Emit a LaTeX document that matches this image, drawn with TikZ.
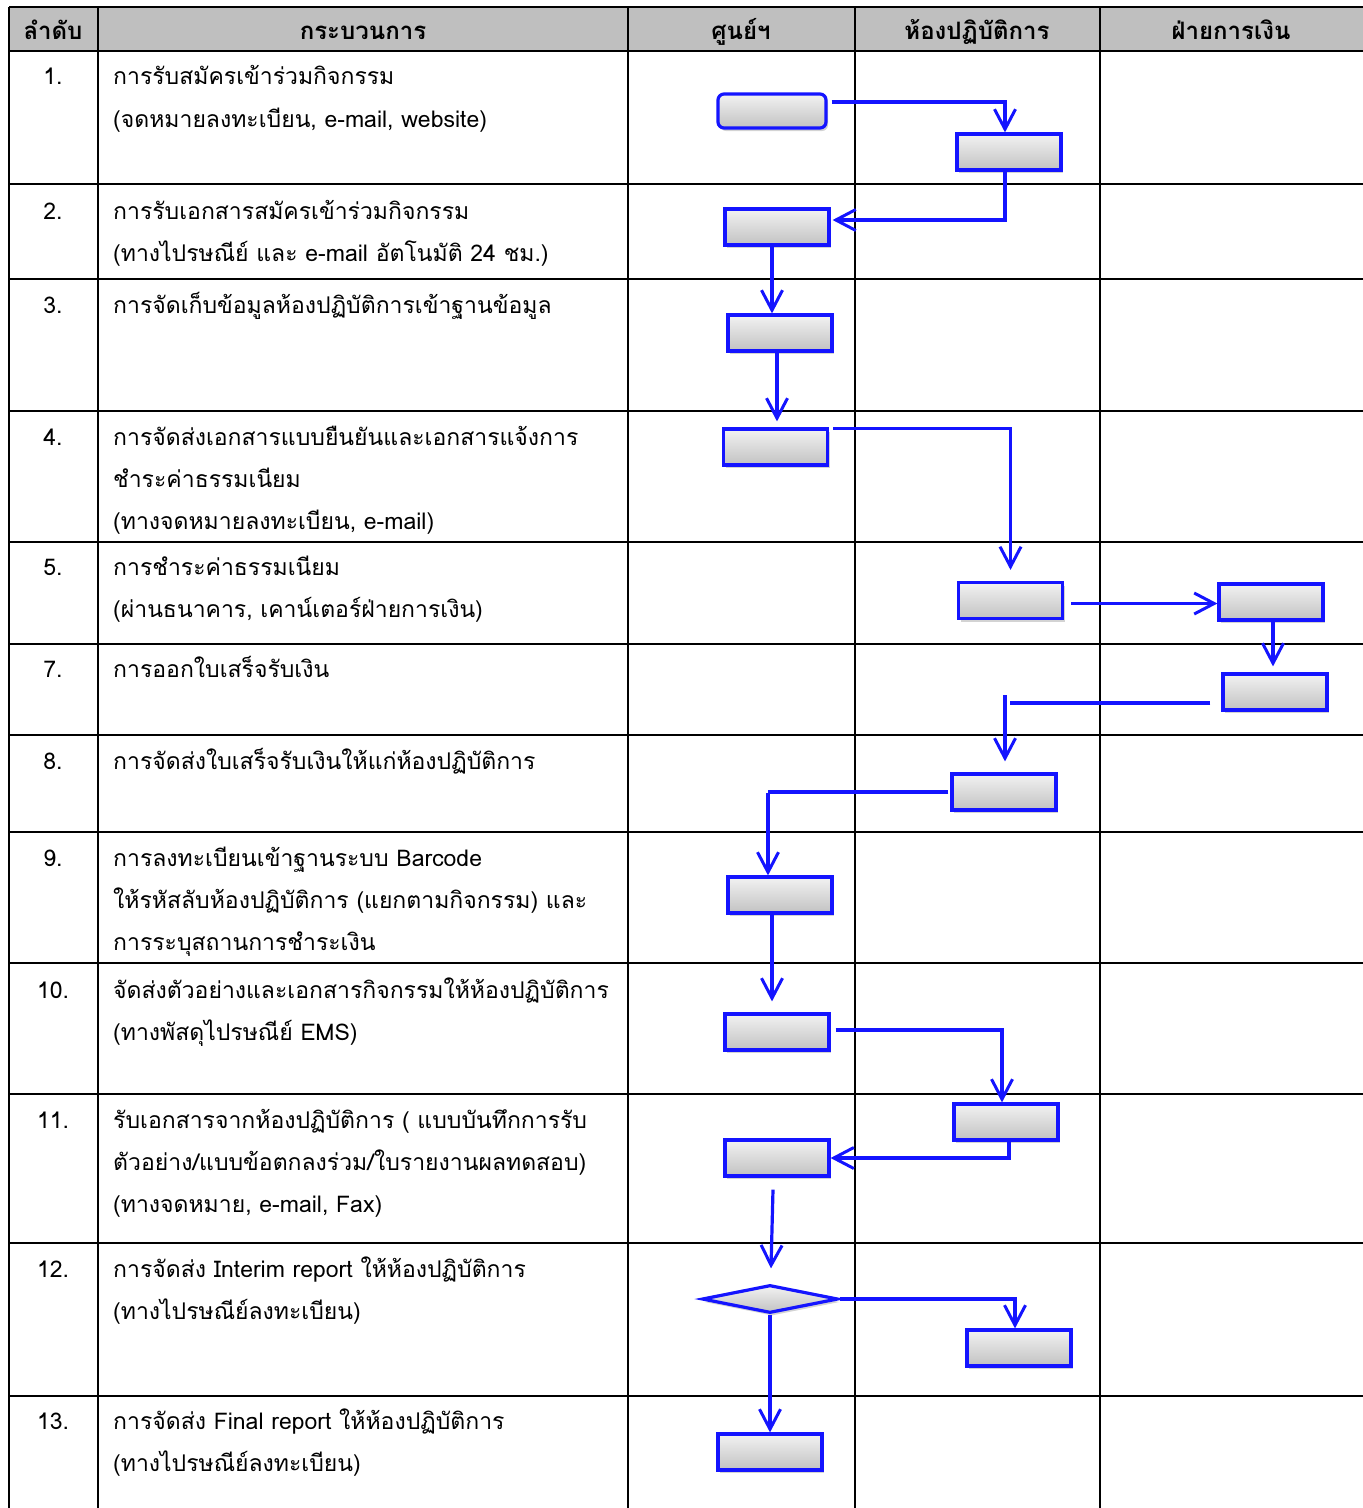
\documentclass[tikz,border=0pt]{standalone}
\usepackage{fontspec}
\newfontfamily\thai[Script=Thai]{Loma}
\usetikzlibrary{shapes.geometric,shadows,arrows.meta,calc}
\definecolor{flowblue}{RGB}{20,20,255}
\definecolor{headgray}{RGB}{191,191,191}
\tikzset{
 tablerule/.style={line width=2.8pt, black},
 txt/.style={anchor=base west, inner sep=0pt, font=\thai\fontsize{23}{28}\selectfont},
 num/.style={anchor=base, inner sep=0pt, font=\thai\fontsize{23}{28}\selectfont},
 head/.style={anchor=base, inner sep=0pt, font=\thai\bfseries\fontsize{24}{28}\selectfont},
 procbox/.style={draw=flowblue, line width=3.2pt, top color=gray!10, bottom color=gray!48,
   minimum width=104pt, minimum height=36pt, inner sep=0pt,
   drop shadow={opacity=0.35, shadow xshift=2pt, shadow yshift=-3pt}},
 decbox/.style={procbox, shape=diamond, minimum width=136pt, minimum height=28pt, aspect=4.8},
 flow/.style={draw=flowblue, line width=3.2pt},
 arr/.style={flow, -{Straight Barb[length=20pt,width=21pt,line width=3pt]}},
}
\begin{document}
\begin{tikzpicture}[x=1pt,y=-1pt]
\useasboundingbox (0,0) rectangle (1363,1508);
% header band
\fill[headgray] (9,7) rectangle (1363,51);
% table rules
\foreach \yy in {7,51,184,279,411,542,644,735,832,963,1094,1243,1396}
  \draw[tablerule] (9,\yy) -- (1363,\yy);
\foreach \xx in {9,98,628,855,1100}
  \draw[tablerule] (\xx,7) -- (\xx,1508);
% header texts
\node[head] (h1) at (53,39) {ลำดับ};
\node[head] (h2) at (363,39) {กระบวนการ};
\node[head] (h3) at (741,39) {ศูนย์ฯ};
\node[head] (h4) at (977,39) {ห้องปฏิบัติการ};
\node[head] (h5) at (1231,39) {ฝ่ายการเงิน};
% numbers
\node[num] (n1) at (53,84) {1.};
\node[num] (n2) at (53,219) {2.};
\node[num] (n3) at (53,313) {3.};
\node[num] (n4) at (53,445) {4.};
\node[num] (n5) at (53,575) {5.};
\node[num] (n7) at (53,677) {7.};
\node[num] (n8) at (53,769) {8.};
\node[num] (n9) at (53,866) {9.};
\node[num] (n10) at (53,998) {10.};
\node[num] (n11) at (53,1128) {11.};
\node[num] (n12) at (53,1277) {12.};
\node[num] (n13) at (53,1429) {13.};
% process texts
\node[txt] (t1a) at (113,84) {การรับสมัครเข้าร่วมกิจกรรม};
\node[txt] (t1b) at (113,127) {(จดหมายลงทะเบียน, e-mail, website)};
\node[txt] (t2a) at (113,219) {การรับเอกสารสมัครเข้าร่วมกิจกรรม};
\node[txt] (t2b) at (113,261) {(ทางไปรษณีย์ และ e-mail อัตโนมัติ 24 ชม.)};
\node[txt] (t3a) at (113,313) {การจัดเก็บข้อมูลห้องปฏิบัติการเข้าฐานข้อมูล};
\node[txt] (t4a) at (113,445) {การจัดส่งเอกสารแบบยืนยันและเอกสารแจ้งการ};
\node[txt] (t4b) at (113,487) {ชำระค่าธรรมเนียม};
\node[txt] (t4c) at (113,529) {(ทางจดหมายลงทะเบียน, e-mail)};
\node[txt] (t5a) at (113,575) {การชำระค่าธรรมเนียม};
\node[txt] (t5b) at (113,617) {(ผ่านธนาคาร, เคาน์เตอร์ฝ่ายการเงิน)};
\node[txt] (t7a) at (113,677) {การออกใบเสร็จรับเงิน};
\node[txt] (t8a) at (113,769) {การจัดส่งใบเสร็จรับเงินให้แก่ห้องปฏิบัติการ};
\node[txt] (t9a) at (113,866) {การลงทะเบียนเข้าฐานระบบ Barcode};
\node[txt] (t9b) at (113,908) {ให้รหัสลับห้องปฏิบัติการ (แยกตามกิจกรรม) และ};
\node[txt] (t9c) at (113,950) {การระบุสถานการชำระเงิน};
\node[txt] (t10a) at (113,998) {จัดส่งตัวอย่างและเอกสารกิจกรรมให้ห้องปฏิบัติการ};
\node[txt] (t10b) at (113,1040) {(ทางพัสดุไปรษณีย์ EMS)};
\node[txt] (t11a) at (113,1128) {รับเอกสารจากห้องปฏิบัติการ ( แบบบันทึกการรับ};
\node[txt] (t11b) at (113,1170) {ตัวอย่าง/แบบข้อตกลงร่วม/ใบรายงานผลทดสอบ)};
\node[txt] (t11c) at (113,1212) {(ทางจดหมาย, e-mail, Fax)};
\node[txt] (t12a) at (113,1277) {การจัดส่ง Interim report ให้ห้องปฏิบัติการ};
\node[txt] (t12b) at (113,1319) {(ทางไปรษณีย์ลงทะเบียน)};
\node[txt] (t13a) at (113,1429) {การจัดส่ง Final report ให้ห้องปฏิบัติการ};
\node[txt] (t13b) at (113,1471) {(ทางไปรษณีย์ลงทะเบียน)};
% flow boxes
\node[procbox, minimum width=108pt, minimum height=34pt, rounded corners=6pt] (b1) at (772,111) {};
\node[procbox] (b2) at (1009,152) {};
\node[procbox] (b3) at (777,227) {};
\node[procbox] (b4) at (780,333) {};
\node[procbox] (b5) at (775.5,447) {};
\node[procbox] (b6) at (1010.5,600.5) {};
\node[procbox] (b7) at (1271,602) {};
\node[procbox] (b8) at (1275,692) {};
\node[procbox] (b9) at (1004,792) {};
\node[procbox] (b10) at (780,895) {};
\node[procbox] (b11) at (777,1032) {};
\node[procbox] (b12) at (1006,1122) {};
\node[procbox] (b13) at (777,1158) {};
\node[decbox] (d1) at (770,1299) {};
\node[procbox] (b14) at (1019,1348) {};
\node[procbox] (b15) at (770,1452) {};
% connectors
\draw[arr] ($(b1.east)+(4,-9)$) -| ($(b2.north)+(-4,0)$);
\draw[arr] ($(b2.south)+(-4,0)$) |- ($(b3.east)+(2,-7)$);
\draw[arr] ($(b3.south)+(-5,0)$) -- ($(b3.south |- b4.north)+(-5,0)$);
\draw[arr] ($(b4.south)+(-3,0)$) -- ($(b4.south |- b5.north)+(-3,-6)$);
\draw[arr] ($(b5.north east)+(4,1)$) -| ($(b6.north)+(0,-11)$);
\coordinate (c6a) at ($(b6.east)+(7,3)$);
\draw[arr] (c6a) -- (c6a -| b7.west);
\draw[arr] ($(b7.south)+(2,0)$) -- ($(b7.south |- b8.north)+(2,-6)$);
\coordinate (c8a) at ($(b8.west)+(-11,11)$);
\coordinate (c8b) at ($(b9.north)+(6,-71)$);
\draw[flow] (c8a) -- (c8a -| c8b);
\draw[arr] ($(b9.north)+(1,-77)$) -- ($(b9.north)+(1,-11)$);
\coordinate (c9a) at ($(b9.west)+(-2,0)$);
\coordinate (c9b) at ($(b10.north)+(-12,-85)$);
\draw[flow] (c9a) -- (c9a -| c9b);
\draw[arr] ($(b10.north)+(-12,-82)$) -- ($(b10.north)+(-12,0)$);
\draw[arr] ($(b10.south)+(-8,0)$) -- ($(b10.south |- b11.north)+(-8,-11)$);
\draw[arr] ($(b11.east)+(5,-2)$) -| ($(b12.north)+(-4,0)$);
\draw[arr] ($(b12.south)+(3,0)$) |- (b13.east);
\draw[arr] ($(b13.south)+(-4,12)$) -- ($(d1.north)+(1,-15)$);
\draw[arr] (d1.east) -| ($(b14.north)+(-4,0)$);
\draw[arr] (d1.south) -- (b15.north);
\end{tikzpicture}
\end{document}
